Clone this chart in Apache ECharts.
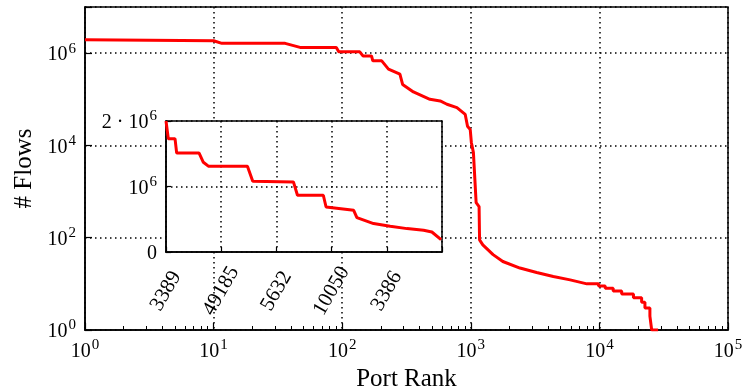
<!DOCTYPE html>
<html><head><meta charset="utf-8">
<script src="https://cdn.jsdelivr.net/npm/echarts@6/dist/echarts.min.js"></script>
<style>html,body{margin:0;padding:0;background:#fff}#c{width:744px;height:389px}</style>
</head><body><div id="c"></div><script>
// Main chart: port rank vs number of flows (log-log)
const mainRanks = [1, 10, 11.6, 36, 47, 90, 94, 137, 145, 169, 173, 203, 229, 281, 295, 358, 481, 578, 652, 780, 905, 943, 990, 1010, 1048, 1100, 1160, 1170, 1240, 1490, 1775, 2410, 3250, 4380, 5920, 7990, 9850, 9850, 11100, 11100, 12800, 12800, 14900, 14900, 18400, 18400, 21300, 21300, 22600, 22600, 24700, 24700, 25500, 25500, 28600];
const mainFlows = [1.95e6, 1.86e6, 1.63e6, 1.63e6, 1.33e6, 1.33e6, 1.07e6, 1.07e6, 8.7e5, 8.7e5, 6.8e5, 6.8e5, 4.5e5, 3.5e5, 2.1e5, 1.44e5, 1.0e5, 9.2e4, 7.8e4, 6.6e4, 4.7e4, 2.6e4, 2.2e4, 1.16e4, 7.0e3, 577, 472, 90, 70, 43, 30.5, 22, 17.6, 14.4, 12.2, 10, 10, 9, 9, 8, 8, 7, 7, 6, 6, 5, 5, 4, 4, 3, 3, 2, 2, 1, 1];
// Inset: top 300 ports, linear scale
const insetRanks = [0, 2.5, 9.8, 11.6, 36, 40.6, 46, 88.5, 94.3, 138.5, 142.9, 171, 174, 204, 207.5, 225.6, 243.7, 262, 280, 289, 299];
const insetFlows = [2.0e6, 1.73e6, 1.73e6, 1.51e6, 1.51e6, 1.37e6, 1.31e6, 1.31e6, 1.08e6, 1.07e6, 0.866e6, 0.866e6, 0.687e6, 0.637e6, 0.525e6, 0.434e6, 0.392e6, 0.357e6, 0.331e6, 0.305e6, 0.189e6];
const insetPorts = ['3389', '49185', '5632', '10050', '3386'];
const insetYLabels = ['0', '10^6', '2 · 10^6'];

const F = 'Liberation Serif';
const rich = {
  b: {fontFamily: F, fontSize: 20, color: '#000', lineHeight: 24, verticalAlign: 'bottom'},
  s: {fontFamily: F, fontSize: 15, color: '#000', lineHeight: 14, verticalAlign: 'top', padding: [0, 0, 0, 1]}
};
function supText(t) {
  const i = t.indexOf('^');
  if (i < 0) return '{b|' + t + '}';
  return '{b|' + t.slice(0, i) + '}{s|' + t.slice(i + 1) + '}';
}
const dotted = {color: '#000', width: 1.5, type: [1.5, 3.5]};

const chart = echarts.init(document.getElementById('c'), null, {renderer: 'canvas'});
chart.setOption({
  animation: false,
  backgroundColor: '#fff',
  grid: [
    {left: 85, top: 7, right: 16, bottom: 59, show: true, borderColor: '#000', borderWidth: 1.5, backgroundColor: '#fff', containLabel: false, outerBoundsMode: 'none'},
    {left: 166, top: 121, width: 276, height: 131, show: true, borderColor: '#000', borderWidth: 1.5, backgroundColor: '#fff', z: 3, containLabel: false, outerBoundsMode: 'none'}
  ],
  xAxis: [
    {type: 'log', logBase: 10, min: 1, max: 1e5, gridIndex: 0,
     name: 'Port Rank', nameLocation: 'middle', nameGap: 35,
     nameTextStyle: {fontFamily: F, fontSize: 25, color: '#000'},
     axisLine: {show: true, lineStyle: {color: '#000', width: 1.5}},
     axisTick: {show: true, inside: true, length: 7, lineStyle: {color: '#000', width: 1.2}},
     minorTick: {show: true, splitNumber: 9, length: 4, lineStyle: {color: '#000', width: 1}},
     splitLine: {show: true, lineStyle: dotted},
     axisLabel: {margin: 8, rich: rich, formatter: v => supText('10^' + Math.round(Math.log10(v)))}},
    {type: 'value', min: 0, max: 300, interval: 60, gridIndex: 1, z: 4,
     axisLine: {show: true, lineStyle: {color: '#000', width: 1.5}},
     axisTick: {show: true, inside: true, length: 5, lineStyle: {color: '#000', width: 1.2}},
     splitLine: {show: true, lineStyle: dotted},
     axisLabel: {rotate: 60, align: 'center', verticalAlign: 'middle', margin: 39,
       fontFamily: F, fontSize: 21, color: '#000',
       formatter: v => { const k = Math.round(v / 60); return (k < insetPorts.length && Math.abs(v - k * 60) < 1e-6) ? insetPorts[k] : ''; }}}
  ],
  yAxis: [
    {type: 'log', logBase: 10, min: 1, max: 1e7, interval: 2, gridIndex: 0,
     name: '# Flows', nameLocation: 'middle', nameGap: 46,
     nameTextStyle: {fontFamily: F, fontSize: 25, color: '#000'},
     axisLine: {show: true, lineStyle: {color: '#000', width: 1.5}},
     axisTick: {show: true, inside: true, length: 7, lineStyle: {color: '#000', width: 1.2}},
     splitLine: {show: true, lineStyle: dotted},
     axisLabel: {margin: 9, rich: rich, formatter: v => { const e = Math.round(Math.log10(v)); return (e % 2 === 0 && e < 7) ? supText('10^' + e) : ''; }}},
    {type: 'value', min: 0, max: 2e6, interval: 1e6, gridIndex: 1, z: 4,
     axisLine: {show: true, lineStyle: {color: '#000', width: 1.5}},
     axisTick: {show: true, inside: true, length: 5, lineStyle: {color: '#000', width: 1.2}},
     splitLine: {show: true, lineStyle: dotted},
     axisLabel: {margin: 9, rich: rich, formatter: v => { const k = Math.round(v / 1e6); return k < insetYLabels.length ? supText(insetYLabels[k]) : ''; }}}
  ],
  series: [
    {type: 'line', xAxisIndex: 0, yAxisIndex: 0, z: 2, showSymbol: false, silent: true,
     lineStyle: {color: '#ff0000', width: 3}, itemStyle: {color: '#ff0000'},
     data: mainRanks.map((r, i) => [r, mainFlows[i]])},
    {type: 'line', xAxisIndex: 1, yAxisIndex: 1, z: 5, showSymbol: false, silent: true,
     lineStyle: {color: '#ff0000', width: 3}, itemStyle: {color: '#ff0000'},
     data: insetRanks.map((r, i) => [r, insetFlows[i]])}
  ]
});
</script></body></html>
